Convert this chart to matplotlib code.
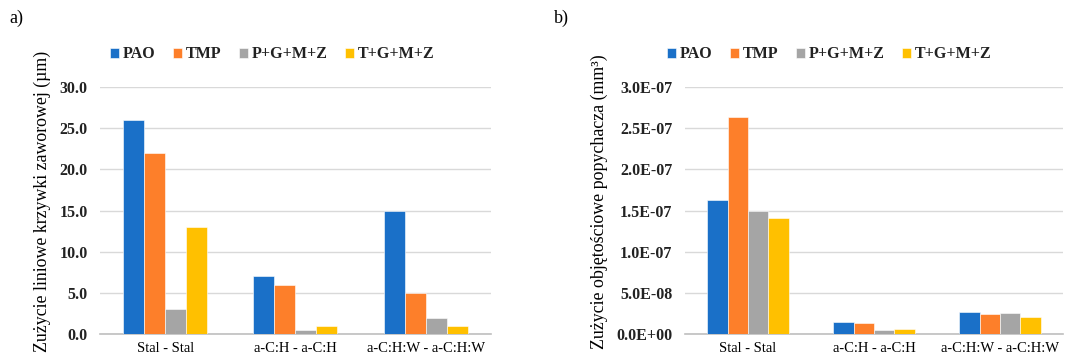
import numpy as np
import matplotlib.pyplot as plt
from matplotlib.ticker import FuncFormatter

plt.rcParams['font.family'] = ['Liberation Serif', 'DejaVu Serif']

pary = ['Stal - Stal', 'a-C:H - a-C:H', 'a-C:H:W - a-C:H:W']
oleje = ['PAO', 'TMP', 'P+G+M+Z', 'T+G+M+Z']
kolory = ['#1a70c8', '#fd7f2a', '#a5a5a5', '#ffc000']

# zużycie liniowe krzywki (µm), kolejno dla PAO, TMP, P+G+M+Z, T+G+M+Z
krzywka_pao = [26.0, 7.0, 15.0]
krzywka_tmp = [22.0, 6.0, 5.0]
krzywka_pgmz = [3.0, 0.5, 2.0]
krzywka_tgmz = [13.0, 1.0, 1.0]

# zużycie objętościowe popychacza (mm3)
popychacz_pao = [1.63e-7, 1.50e-8, 2.68e-8]
popychacz_tmp = [2.64e-7, 1.34e-8, 2.43e-8]
popychacz_pgmz = [1.50e-7, 0.52e-8, 2.55e-8]
popychacz_tgmz = [1.41e-7, 0.55e-8, 2.10e-8]


def wykres(ax, serie, ymax, krok, fmt, ylabel, leg_x):
    x = np.arange(len(pary))
    szer = 0.645 / len(serie)
    for i, (wart, kol, nazwa) in enumerate(zip(serie, kolory, oleje)):
        ax.bar(x + (i - 1.5) * szer, wart, szer, color=kol, label=nazwa,
               edgecolor='white', linewidth=0.4, zorder=3)
    ax.set_xlim(-0.5, len(pary) - 0.5)
    ax.set_ylim(0, ymax)
    ax.set_yticks(np.arange(0, ymax + krok / 2, krok))
    ax.yaxis.set_major_formatter(FuncFormatter(fmt))
    ax.set_xticks(x)
    ax.set_xticklabels(pary, fontsize=10.5)
    ax.grid(axis='y', color='#d9d9d9', linewidth=1, zorder=0)
    for s in ['top', 'right', 'left']:
        ax.spines[s].set_visible(False)
    ax.spines['bottom'].set_color('#bfbfbf')
    ax.spines['bottom'].set_linewidth(1.2)
    ax.tick_params(length=0)
    ax.tick_params(axis='x', pad=6)
    ax.tick_params(axis='y', labelsize=11.5, pad=9, labelcolor='#222222')
    for t in ax.get_yticklabels():
        t.set_fontweight('semibold')
    ax.set_ylabel(ylabel, fontsize=12.9, labelpad=6)
    # podpis osi przesunięty nieco w górę, żeby zmieścił się w rysunku
    ax.yaxis.label.set_y(0.535)
    leg = ax.legend(loc='lower left', bbox_to_anchor=(leg_x, 1.10), ncol=4,
                    frameon=False, fontsize=11.5, handlelength=0.55,
                    handleheight=0.55, handletextpad=0.25, columnspacing=1.1,
                    borderaxespad=0, borderpad=0)
    for t in leg.get_texts():
        t.set_fontweight('semibold')
        t.set_color('#222222')


fig = plt.figure(figsize=(10.65, 3.6), dpi=100)
ax1 = fig.add_axes([0.0939, 0.0722, 0.367, 0.686])
ax2 = fig.add_axes([0.6432, 0.0722, 0.355, 0.686])

wykres(ax1, [krzywka_pao, krzywka_tmp, krzywka_pgmz, krzywka_tgmz],
       30, 5, lambda v, p: f'{v:.1f}',
       'Zużycie liniowe krzywki zaworowej (µm)', 0.026)
wykres(ax2, [popychacz_pao, popychacz_tmp, popychacz_pgmz, popychacz_tgmz],
       3e-7, 5e-8, lambda v, p: f'{v:.1E}',
       'Zużycie objętościowe popychacza (mm³)', -0.048)

fig.text(0.009, 0.935, 'a)', fontsize=13)
fig.text(0.52, 0.935, 'b)', fontsize=13)

fig.savefig('out.png', dpi=100)
